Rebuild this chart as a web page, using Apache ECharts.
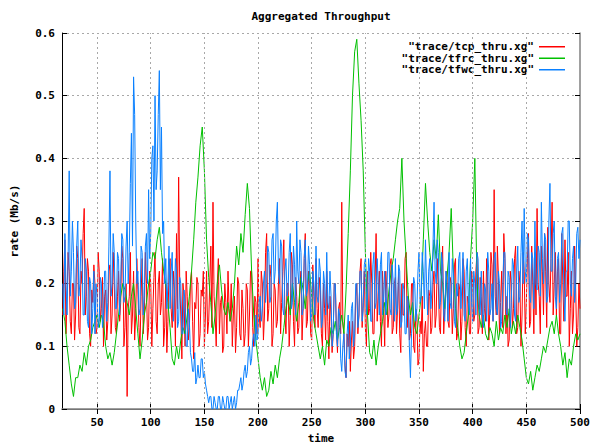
<!DOCTYPE html>
<html>
<head>
<meta charset="utf-8">
<script src="https://cdn.jsdelivr.net/npm/echarts@6/dist/echarts.min.js"></script>
<style>html,body{margin:0;padding:0;background:#fff}#c{width:593px;height:446px}</style>
</head>
<body>
<div id="c"></div>
<script>
// sampling grids (time, seconds)
const tStart = 18;
const fineStep = 1;    // tcp & tfwc samples
const coarseStep = 2;  // tfrc samples
const xTicks = [50,100,150,200,250,300,350,400,450,500];
const seriesNames = ['"trace/tcp_thru.xg"','"trace/tfrc_thru.xg"','"trace/tfwc_thru.xg"'];

const tcp = [
0.15,0.22,0.27,0.12,0.18,0.25,0.22,0.14,0.12,0.2,
0.2,0.11,0.15,0.26,0.24,0.13,0.12,0.22,0.2,0.28,
0.32,0.15,0.18,0.24,0.22,0.12,0.1,0.19,0.17,0.23,
0.2,0.12,0.13,0.25,0.22,0.14,0.16,0.21,0.1,0.18,
0.19,0.11,0.14,0.22,0.23,0.12,0.15,0.25,0.2,0.13,
0.12,0.18,0.22,0.14,0.17,0.26,0.24,0.1,0.13,0.2,
0.02,0.16,0.18,0.25,0.12,0.15,0.22,0.11,0.15,0.24,
0.19,0.13,0.1,0.18,0.24,0.12,0.15,0.25,0.2,0.11,
0.13,0.22,0.2,0.1,0.16,0.21,0.25,0.14,0.12,0.2,
0.22,0.15,0.17,0.24,0.1,0.13,0.2,0.09,0.14,0.22,
0.24,0.16,0.13,0.22,0.19,0.1,0.28,0.16,0.37,0.2,
0.15,0.08,0.2,0.18,0.1,0.22,0.18,0.11,0.13,0.2,
0.22,0.14,0.08,0.17,0.16,0.21,0.2,0.1,0.12,0.19,
0.18,0.22,0.1,0.15,0.22,0.12,0.14,0.2,0.26,0.13,
0.33,0.18,0.15,0.1,0.2,0.24,0.12,0.17,0.18,0.09,
0.1,0.2,0.17,0.12,0.22,0.16,0.14,0.2,0.1,0.15,
0.18,0.09,0.13,0.21,0.2,0.12,0.11,0.19,0.16,0.1,
0.12,0.2,0.19,0.1,0.15,0.22,0.22,0.13,0.1,0.18,
0.17,0.12,0.24,0.15,0.13,0.22,0.2,0.11,0.15,0.25,
0.28,0.14,0.16,0.23,0.21,0.1,0.12,0.2,0.19,0.13,
0.14,0.2,0.24,0.12,0.17,0.22,0.27,0.15,0.12,0.2,
0.2,0.1,0.15,0.25,0.23,0.14,0.1,0.21,0.18,0.12,
0.13,0.2,0.22,0.11,0.16,0.24,0.28,0.13,0.14,0.22,
0.2,0.12,0.11,0.23,0.18,0.13,0.24,0.16,0.13,0.21,
0.19,0.12,0.1,0.2,0.16,0.11,0.22,0.14,0.08,0.18,
0.15,0.09,0.12,0.2,0.2,0.13,0.09,0.16,0.17,0.12,
0.33,0.14,0.12,0.07,0.05,0.12,0.1,0.14,0.06,0.11,
0.14,0.08,0.1,0.18,0.2,0.12,0.15,0.22,0.24,0.13,
0.17,0.22,0.13,0.1,0.22,0.15,0.16,0.25,0.2,0.12,
0.12,0.2,0.28,0.14,0.18,0.22,0.14,0.1,0.22,0.16,
0.1,0.22,0.19,0.13,0.15,0.23,0.24,0.12,0.13,0.2,
0.21,0.12,0.16,0.22,0.12,0.09,0.2,0.15,0.15,0.24,
0.25,0.13,0.18,0.11,0.12,0.2,0.2,0.1,0.09,0.16,
0.15,0.07,0.08,0.14,0.12,0.18,0.06,0.12,0.14,0.1,
0.1,0.19,0.18,0.12,0.13,0.2,0.22,0.13,0.15,0.24,
0.2,0.13,0.12,0.22,0.26,0.12,0.16,0.2,0.22,0.14,
0.13,0.21,0.2,0.12,0.16,0.23,0.24,0.11,0.12,0.2,
0.19,0.11,0.14,0.24,0.22,0.13,0.1,0.18,0.17,0.12,
0.12,0.22,0.2,0.14,0.15,0.22,0.25,0.12,0.13,0.21,
0.18,0.12,0.22,0.16,0.14,0.24,0.2,0.11,0.16,0.25,
0.23,0.14,0.35,0.18,0.15,0.26,0.21,0.12,0.17,0.22,
0.13,0.28,0.24,0.12,0.18,0.1,0.11,0.22,0.2,0.13,
0.16,0.24,0.26,0.12,0.13,0.22,0.2,0.1,0.15,0.25,
0.22,0.12,0.17,0.24,0.28,0.13,0.14,0.26,0.2,0.12,
0.25,0.15,0.32,0.2,0.18,0.12,0.26,0.22,0.15,0.28,
0.22,0.13,0.29,0.2,0.17,0.24,0.33,0.15,0.2,0.25,
0.15,0.22,0.24,0.12,0.12,0.28,0.2,0.14,0.27,0.18,
0.18,0.25,0.1,0.16,0.22,0.12,0.15,0.26,0.19,0.1,
0.13,0.2,0.16
];
const tfrc = [
0.16,0.14,0.1,0.07,0.04, 0.02,0.05,0.05,0.07,0.06, 0.09,0.07,0.1,0.11,0.13, 0.14,0.15,0.13,0.15,0.14,
0.1,0.08,0.09,0.07,0.09, 0.12,0.15,0.18,0.2,0.19, 0.17,0.15,0.18,0.2,0.16, 0.12,0.08,0.11,0.15,0.17,
0.2,0.22,0.25,0.24,0.27, 0.29,0.25,0.22,0.2,0.17, 0.13,0.08,0.07,0.1,0.08, 0.11,0.13,0.12,0.15,0.18,
0.22,0.27,0.33,0.37,0.42, 0.45,0.38,0.27,0.21,0.17, 0.12,0.15,0.2,0.23,0.19, 0.16,0.15,0.17,0.14,0.16,
0.2,0.26,0.23,0.28,0.25, 0.31,0.36,0.32,0.22,0.15, 0.11,0.08,0.05,0.03,0.05, 0.02,0.03,0.06,0.04,0.07,
0.05,0.08,0.1,0.13,0.16, 0.18,0.15,0.2,0.17,0.14, 0.17,0.21,0.19,0.16,0.2, 0.22,0.18,0.14,0.12,0.1,
0.08,0.1,0.07,0.11,0.1, 0.13,0.12,0.14,0.11,0.13, 0.15,0.12,0.19,0.28,0.38, 0.5,0.57,0.59,0.52,0.46,
0.38,0.25,0.15,0.09,0.08, 0.11,0.07,0.1,0.12,0.14, 0.17,0.15,0.19,0.22,0.24, 0.27,0.3,0.32,0.4,0.3,
0.24,0.18,0.15,0.17,0.13, 0.12,0.15,0.18,0.27,0.36, 0.3,0.25,0.22,0.27,0.24, 0.31,0.22,0.2,0.16,0.21,
0.25,0.32,0.22,0.16,0.13, 0.1,0.08,0.09,0.12,0.15, 0.24,0.3,0.4,0.2,0.15, 0.13,0.15,0.12,0.11,0.13,
0.12,0.1,0.14,0.11,0.13, 0.12,0.15,0.13,0.16,0.12, 0.14,0.12,0.15,0.13,0.11, 0.08,0.05,0.04,0.06,0.03,
0.05,0.07,0.06,0.08,0.1, 0.09,0.11,0.13,0.14,0.12, 0.15,0.12,0.1,0.07,0.09, 0.05,0.08,0.07,0.1,0.12,
0.11,0.12
];
const tfwc = [
0.2,0.15,0.28,0.2,0.15,0.24,0.38,0.18,0.22,0.3,
0.25,0.16,0.17,0.26,0.3,0.18,0.2,0.27,0.24,0.15,
0.15,0.24,0.22,0.14,0.13,0.21,0.2,0.12,0.16,0.22,
0.12,0.2,0.18,0.13,0.14,0.21,0.2,0.13,0.15,0.22,
0.22,0.14,0.17,0.26,0.38,0.18,0.2,0.28,0.25,0.16,
0.16,0.25,0.24,0.15,0.2,0.28,0.27,0.17,0.18,0.26,
0.3,0.2,0.25,0.36,0.44,0.26,0.53,0.47,0.3,0.2,
0.22,0.15,0.16,0.26,0.25,0.15,0.18,0.26,0.28,0.2,
0.35,0.24,0.28,0.4,0.42,0.3,0.5,0.35,0.38,0.47,
0.54,0.35,0.45,0.28,0.3,0.2,0.24,0.16,0.2,0.26,
0.16,0.22,0.25,0.14,0.18,0.24,0.22,0.13,0.14,0.21,
0.2,0.12,0.12,0.19,0.17,0.1,0.1,0.16,0.14,0.09,
0.08,0.06,0.06,0.09,0.04,0.05,0.07,0.05,0.05,0.08,
0.08,0.05,0.06,0.04,0.03,0.02,0.01,0.02,0.02,0.0,
0.0,0.02,0.01,0.0,0.0,0.02,0.02,0.0,0.0,0.02,
0.01,0.0,0.0,0.02,0.02,0.0,0.01,0.02,0.0,0.01,
0.02,0.0,0.01,0.03,0.03,0.04,0.05,0.03,0.04,0.06,
0.07,0.05,0.06,0.09,0.1,0.07,0.08,0.11,0.12,0.1,
0.15,0.11,0.12,0.17,0.18,0.14,0.16,0.2,0.22,0.17,
0.2,0.26,0.25,0.17,0.18,0.27,0.28,0.2,0.22,0.3,
0.33,0.22,0.2,0.27,0.26,0.16,0.15,0.22,0.24,0.18,
0.19,0.25,0.28,0.16,0.17,0.26,0.23,0.15,0.3,0.22,
0.2,0.27,0.25,0.15,0.16,0.24,0.27,0.18,0.19,0.26,
0.23,0.14,0.15,0.22,0.2,0.15,0.26,0.18,0.17,0.24,
0.22,0.13,0.14,0.22,0.2,0.15,0.25,0.17,0.16,0.22,
0.18,0.1,0.12,0.2,0.2,0.12,0.1,0.16,0.15,0.08,
0.06,0.1,0.12,0.06,0.05,0.12,0.15,0.08,0.1,0.16,
0.17,0.1,0.12,0.2,0.2,0.13,0.15,0.22,0.22,0.14,
0.16,0.23,0.24,0.15,0.18,0.24,0.22,0.14,0.14,0.23,
0.25,0.16,0.17,0.24,0.2,0.15,0.23,0.25,0.15,0.18,
0.22,0.15,0.18,0.25,0.25,0.16,0.15,0.23,0.2,0.14,
0.24,0.15,0.16,0.23,0.22,0.13,0.14,0.2,0.19,0.12,
0.12,0.18,0.17,0.1,0.05,0.12,0.15,0.21,0.2,0.14,
0.16,0.22,0.25,0.17,0.18,0.25,0.22,0.16,0.27,0.2,
0.15,0.22,0.24,0.16,0.19,0.26,0.33,0.22,0.2,0.27,
0.25,0.16,0.17,0.25,0.23,0.15,0.14,0.22,0.2,0.14,
0.25,0.17,0.16,0.24,0.22,0.14,0.13,0.2,0.18,0.24,
0.25,0.16,0.2,0.25,0.15,0.14,0.22,0.24,0.17,0.15,
0.24,0.17,0.14,0.22,0.2,0.15,0.25,0.24,0.16,0.15,
0.22,0.15,0.13,0.2,0.19,0.14,0.25,0.22,0.15,0.16,
0.2,0.14,0.24,0.25,0.16,0.15,0.22,0.2,0.13,0.14,
0.19,0.25,0.25,0.16,0.15,0.22,0.21,0.13,0.17,0.24,
0.23,0.15,0.14,0.22,0.26,0.17,0.18,0.25,0.3,0.2,
0.32,0.22,0.2,0.28,0.27,0.18,0.17,0.25,0.24,0.16,
0.3,0.2,0.19,0.26,0.25,0.18,0.33,0.24,0.2,0.28,
0.27,0.17,0.18,0.3,0.36,0.22,0.22,0.28,0.3,0.18,
0.16,0.24,0.25,0.17,0.2,0.28,0.29,0.18,0.14,0.22,
0.22,0.3,0.3,0.2,0.18,0.24,0.26,0.17,0.2,0.28,
0.29,0.24,0.27
];

const pairs = (arr, step) => arr.map((v, i) => [tStart + i * step, v]);

const FONT = 'DejaVu Sans Mono';
const txt = {fontFamily: FONT, fontWeight: 'bold', fontSize: 11, color: '#000'};
const dash = [2, 3];

const chart = echarts.init(document.getElementById('c'), null, {renderer: 'svg'});
chart.setOption({
  animation: false,
  backgroundColor: '#fff',
  grid: {left: 62, right: 13, top: 33, bottom: 37, containLabel: false, outerBoundsMode: 'none'},
  graphic: [{
    type: 'text', x: 321, y: 16,
    style: {text: 'Aggregated Throughput', textAlign: 'center', textVerticalAlign: 'middle',
            font: 'bold 11px "' + FONT + '"', fill: '#000'}
  }],
  legend: {
    data: seriesNames,
    orient: 'vertical', align: 'right', right: 23, top: 36,
    icon: 'rect', itemWidth: 26, itemHeight: 1.5, itemGap: 0,
    textStyle: Object.assign({}, txt, {lineHeight: 11.5, padding: 0}),
    selectedMode: false
  },
  xAxis: [{
    type: 'value', min: 17.3, max: 500, position: 'bottom',
    name: 'time', nameLocation: 'middle', nameGap: 23, nameTextStyle: txt,
    axisLine: {show: true, lineStyle: {color: '#555', width: 1}},
    axisTick: {show: true, inside: true, length: 5, customValues: xTicks, lineStyle: {color: '#000'}},
    axisLabel: {customValues: xTicks, margin: 8, ...txt},
    splitLine: {show: false}
  }, {
    type: 'value', min: 17.3, max: 500, position: 'top',
    axisLine: {show: true, lineStyle: {color: '#808080', width: 1.5}},
    axisTick: {show: true, inside: true, length: 5, customValues: xTicks, lineStyle: {color: '#000'}},
    axisLabel: {show: false},
    splitLine: {show: false}
  }],
  yAxis: [{
    type: 'value', min: 0, max: 0.6, interval: 0.1, position: 'left',
    name: 'rate (Mb/s)', nameLocation: 'middle', nameGap: 42, nameRotate: 90, nameTextStyle: txt,
    axisLine: {show: true, lineStyle: {color: '#000', width: 1}},
    axisTick: {show: true, inside: true, length: 5, lineStyle: {color: '#000'}},
    axisLabel: {margin: 7, ...txt},
    splitLine: {show: true, lineStyle: {color: '#a8a8a8', type: dash, width: 1}}
  }, {
    type: 'value', min: 0, max: 0.6, interval: 0.1, position: 'right',
    axisLine: {show: true, lineStyle: {color: '#808080', width: 1.5}},
    axisTick: {show: true, inside: true, length: 5, lineStyle: {color: '#000'}},
    axisLabel: {show: false},
    splitLine: {show: false}
  }],
  series: [
    {
      type: 'line', name: '__grid', data: [], z: 1, silent: true,
      markLine: {
        silent: true, symbol: 'none', label: {show: false},
        lineStyle: {color: '#a8a8a8', type: dash, width: 1},
        data: xTicks.filter(v => v < 500).map(v => ({xAxis: v}))
      }
    },
    {type: 'line', name: seriesNames[0], data: pairs(tcp, fineStep), showSymbol: false, symbol: 'none',
     lineStyle: {color: '#ff0000', width: 1}, itemStyle: {color: '#ff0000'}, z: 2},
    {type: 'line', name: seriesNames[1], data: pairs(tfrc, coarseStep), showSymbol: false, symbol: 'none',
     lineStyle: {color: '#00c000', width: 1}, itemStyle: {color: '#00c000'}, z: 3},
    {type: 'line', name: seriesNames[2], data: pairs(tfwc, fineStep), showSymbol: false, symbol: 'none',
     lineStyle: {color: '#0a80ff', width: 1}, itemStyle: {color: '#0a80ff'}, z: 4}
  ]
});
</script>
</body>
</html>
